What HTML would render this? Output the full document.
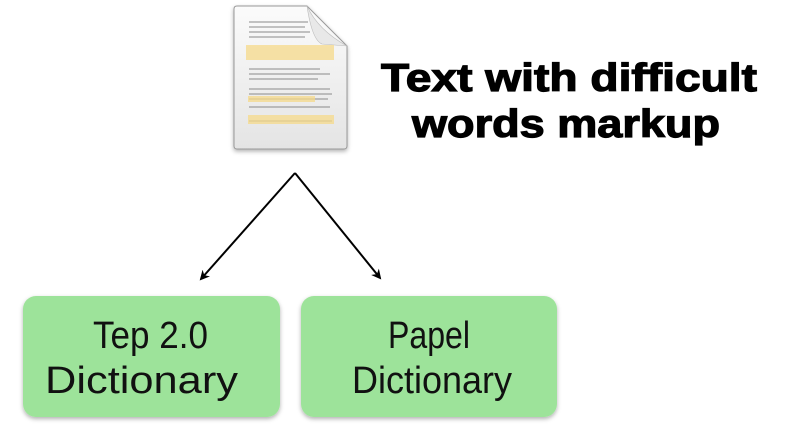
<!DOCTYPE html>
<html><head><style>
html,body{margin:0;padding:0;background:#fff;width:803px;height:433px;overflow:hidden}
</style></head><body>
<svg width="803" height="433" viewBox="0 0 803 433" xmlns="http://www.w3.org/2000/svg">
<defs>
<linearGradient id="pg" x1="0" y1="0" x2="0" y2="1"><stop offset="0" stop-color="#fbfbfb"/><stop offset="1" stop-color="#e4e4e4"/></linearGradient>
<filter id="sh" x="-10%" y="-10%" width="130%" height="130%"><feDropShadow dx="0" dy="2" stdDeviation="2" flood-color="#000" flood-opacity="0.3"/></filter>
<marker id="ah" markerWidth="10" markerHeight="10" refX="8" refY="5" orient="auto" markerUnits="userSpaceOnUse"><path d="M0,0 L10,5 L0,10 L3,5 Z" fill="#000"/></marker>
</defs>
<path d="M237,6 L307,6 L347,46 L347,146 Q347,149 344,149 L237,149 Q234,149 234,146 L234,9 Q234,6 237,6 Z" fill="url(#pg)" stroke="#999" stroke-width="1" filter="url(#sh)"/>
<path d="M307,6 Q318,30 347,46 L322,44 Q312,40 307,6 Z" fill="#e8e8e8" stroke="#bbb" stroke-width="0.6"/>
<g stroke="#8a8a8a" stroke-width="1">
<line x1="249" y1="22" x2="308" y2="22"/><line x1="249" y1="27" x2="305" y2="27"/><line x1="249" y1="32" x2="310" y2="32"/><line x1="249" y1="37" x2="305" y2="37"/>
<line x1="249" y1="69" x2="320" y2="69"/><line x1="249" y1="74" x2="330" y2="74"/><line x1="249" y1="79" x2="318" y2="79"/>
<line x1="249" y1="89" x2="330" y2="89"/><line x1="249" y1="94" x2="332" y2="94"/><line x1="249" y1="99" x2="328" y2="99"/><line x1="249" y1="107" x2="330" y2="107"/>
<line x1="249" y1="121" x2="332" y2="121"/>
</g>
<rect x="246" y="45" width="88" height="15" fill="#f5d98a" opacity="0.75"/>
<rect x="248" y="96" width="67" height="6" fill="#f5d98a" opacity="0.75"/>
<rect x="248" y="115" width="86" height="9" fill="#f5d98a" opacity="0.75"/>
<g font-family="Liberation Sans, sans-serif" font-weight="bold" font-size="39" stroke="#000" stroke-width="1.2">
<text x="381" y="91" textLength="376" lengthAdjust="spacingAndGlyphs">Text with difficult</text>
<text x="412" y="137" textLength="308" lengthAdjust="spacingAndGlyphs">words markup</text>
</g>
<line x1="295" y1="173" x2="201" y2="279" stroke="#000" stroke-width="2" marker-end="url(#ah)"/>
<line x1="295" y1="173" x2="380" y2="278" stroke="#000" stroke-width="2" marker-end="url(#ah)"/>
<rect x="23" y="296" width="257" height="121" rx="13" fill="#9de39a" filter="url(#sh)"/>
<rect x="301" y="296" width="256" height="121" rx="13" fill="#9de39a" filter="url(#sh)"/>
<g font-family="Liberation Sans, sans-serif" font-size="38" fill="#111">
<text x="93" y="348" textLength="115" lengthAdjust="spacingAndGlyphs">Tep 2.0</text>
<text x="45" y="393" textLength="193" lengthAdjust="spacingAndGlyphs">Dictionary</text>
<text x="388" y="348" textLength="82" lengthAdjust="spacingAndGlyphs">Papel</text>
<text x="352" y="393" textLength="160" lengthAdjust="spacingAndGlyphs">Dictionary</text>
</g>
</svg>
</body></html>
